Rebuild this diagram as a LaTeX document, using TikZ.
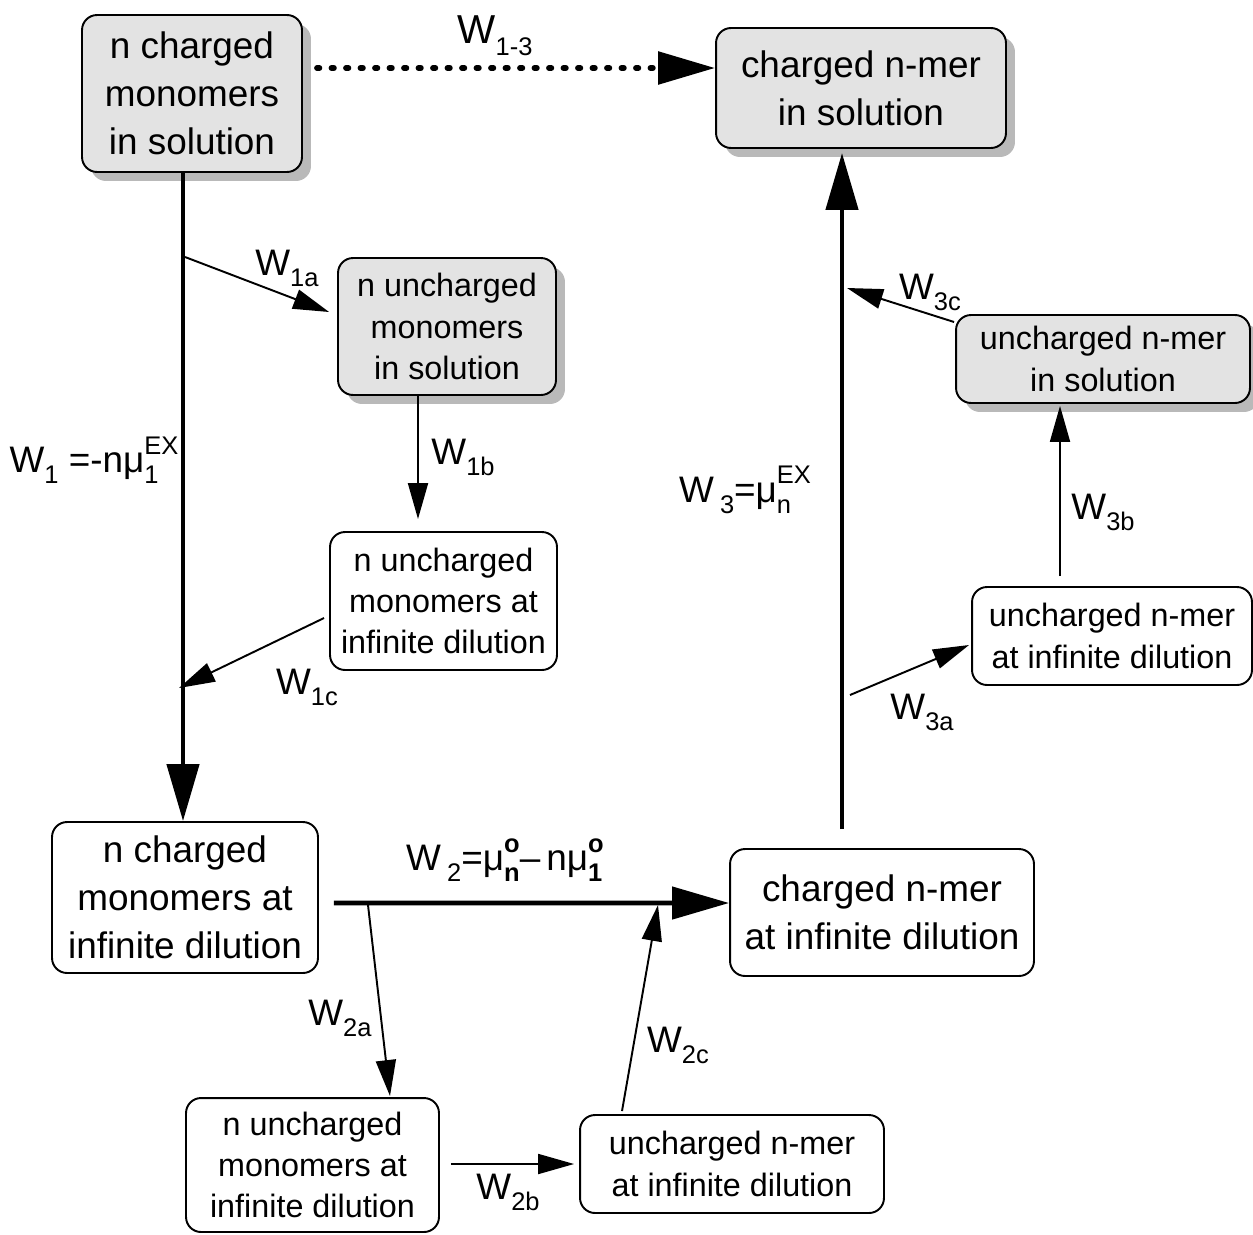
\documentclass[tikz,border=0pt]{standalone}
\usepackage{fontspec}
\setmainfont{Liberation Sans}
\usetikzlibrary{arrows.meta,shadows,calc}
\newcommand\mysub[1]{\raisebox{-0.3em}{\fontsize{14.5}{14.5}\selectfont #1}}
\newcommand\mysup[1]{\raisebox{0.5em}{\fontsize{14.5}{14.5}\selectfont #1}}
\newcommand\mysubsup[2]{\setbox0\hbox{\mysub{#1}}\setbox2\hbox{\mysup{#2}}%
  \ifdim\wd0>\wd2 \rlap{\copy2}\copy0\else\rlap{\copy0}\copy2\fi}
\begin{document}
\begin{tikzpicture}[x=0.02cm,y=-0.02cm,
  box/.style={draw, line width=1.1pt, rounded corners=0.3cm, align=center, inner sep=0pt},
  big/.style={font=\fontsize{21}{27.2}\selectfont},
  small/.style={font=\fontsize{18.4}{23.5}\selectfont},
  shaded/.style={fill=gray!22, drop shadow={shadow xshift=0.18cm, shadow yshift=-0.18cm, fill=gray!55, opacity=1}},
  thickarrow/.style={line width=2.6pt, -{Triangle[length=1.14cm,width=0.64cm]}},
  thinarrow/.style={line width=1.1pt, -{Triangle[length=0.72cm,width=0.4cm]}},
  lab/.style={font=\fontsize{21}{25}\selectfont, inner sep=0pt}]
\useasboundingbox (0,0) rectangle (1253,1234);

% boxes
\node[box,big,shaded,minimum width=4.4cm,minimum height=3.14cm] (A) at (192,93.5) {n charged\\monomers\\in solution};
\node[box,big,shaded,minimum width=5.8cm,minimum height=2.4cm] (B) at (861,88) {charged n-mer\\in solution};
\node[box,small,shaded,minimum width=4.36cm,minimum height=2.74cm] (C) at (447,326.5) {n uncharged\\monomers\\in solution};
\node[box,small,minimum width=4.54cm,minimum height=2.76cm] (D) at (443.5,601) {n uncharged\\monomers at\\infinite dilution};
\node[box,big,minimum width=5.32cm,minimum height=3.02cm] (E) at (185,897.5) {n charged\\monomers at\\infinite dilution};
\node[box,big,minimum width=6.08cm,minimum height=2.54cm] (F) at (882,912.5) {charged n-mer\\at infinite dilution};
\node[box,small,minimum width=5.06cm,minimum height=2.68cm] (G) at (312.5,1165) {n uncharged\\monomers at\\infinite dilution};
\node[box,small,minimum width=6.08cm,minimum height=1.96cm] (H) at (732,1164) {uncharged n-mer\\at infinite dilution};
\node[box,small,minimum width=5.6cm,minimum height=1.96cm] (I) at (1112,636) {uncharged n-mer\\at infinite dilution};
\node[box,small,shaded,minimum width=5.88cm,minimum height=1.76cm] (J) at (1103,359) {uncharged n-mer\\in solution};

% points on the main lines
\coordinate (m1a) at (185,257);
\coordinate (m1c) at (179,688);
\coordinate (m2a) at (368,905);
\coordinate (m2c) at (658,905);
\coordinate (m3a) at (850,695);
\coordinate (m3c) at (847,288);

% main arrows
\draw[line width=3.2pt, dash pattern=on 0.05cm off 0.24cm, line cap=round, -{Triangle[length=1.14cm,width=0.64cm]}]
  ($(A.east)+(14,-25.5)$) -- ($(B.west)+(0,-20)$);
\draw[thickarrow] ($(A.south)+(-9,0)$) -- ($(E.north)+(-2,0)$);
\draw[thickarrow] ($(E.east)+(15,5.5)$) -- ($(F.west)+(0,-9.5)$);
\draw[thickarrow] ($(F.north)+(-40,-19)$) -- ($(B.south)+(-19,4)$);

% side arrows
\draw[thinarrow] (m1a) -- ($(C.west)+(-8,-14.5)$);
\draw[thinarrow] ($(C.south)+(-29,0)$) -- ($(D.north)+(-25.5,-12)$);
\draw[thinarrow] ($(D.west)+(-5,17)$) -- (m1c);
\draw[thinarrow] (m2a) -- ($(G.north)+(77.5,-1)$);
\draw[thinarrow] ($(G.east)+(11,-1)$) -- ($(H.west)+(-5,0)$);
\draw[thinarrow] ($(H.north)+(-110,-3)$) -- (m2c);
\draw[thinarrow] (m3a) -- ($(I.west)+(-2,9)$);
\draw[thinarrow] ($(I.north)+(-52,-10)$) -- ($(J.south)+(-43,2)$);
\draw[thinarrow] ($(J.west)+(-1,-37)$) -- (m3c);

% labels
\node[lab,font=\fontsize{23}{26}\selectfont] (l13) at (495,36) {W\mysub{1-3}};
\node[lab] (l1) at (94,460) {W\mysub{1} =-nμ\mysubsup{1}{EX}};
\node[lab] (l1a) at (287,268) {W\mysub{1a}};
\node[lab] (l1b) at (463,457) {W\mysub{1b}};
\node[lab] (l1c) at (307,687) {W\mysub{1c}};
\node[lab] (l2) at (505,860) {W\,\mysub{2}=μ\mysubsup{\textbf{n}}{\textbf{o}}–\,nμ\mysubsup{\textbf{1}}{\textbf{o}}};
\node[lab] (l2a) at (340,1018) {W\mysub{2a}};
\node[lab] (l2b) at (508,1192) {W\mysub{2b}};
\node[lab] (l2c) at (678,1045) {W\mysub{2c}};
\node[lab] (l3) at (745,490) {W\,\mysub{3}=μ\mysubsup{n}{EX}};
\node[lab] (l3a) at (922,712) {W\mysub{3a}};
\node[lab] (l3b) at (1103,512) {W\mysub{3b}};
\node[lab] (l3c) at (930,292) {W\mysub{3c}};
\end{tikzpicture}
\end{document}
